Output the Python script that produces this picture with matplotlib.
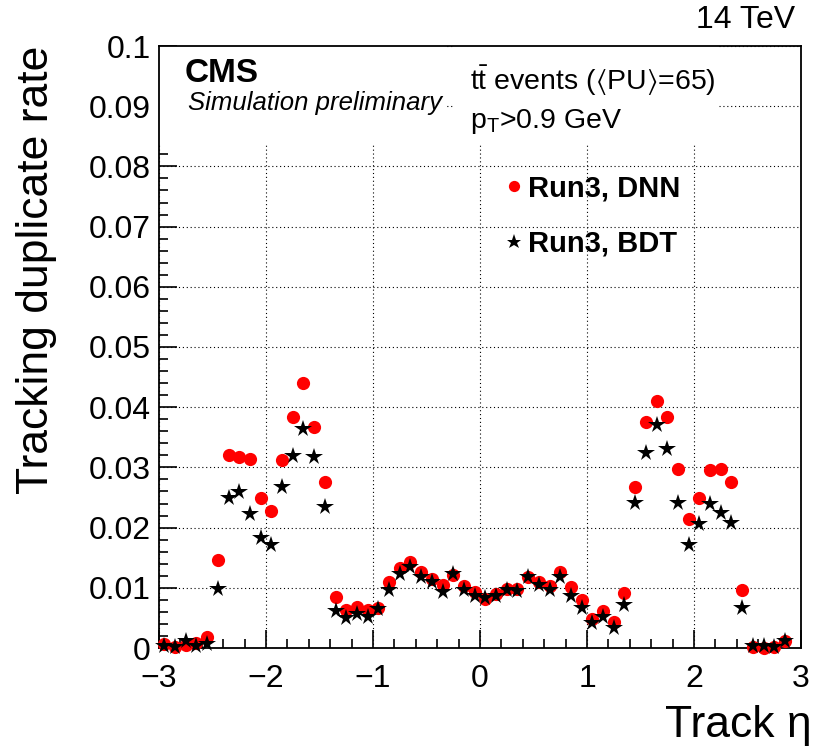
import matplotlib
matplotlib.use("Agg")
import matplotlib.pyplot as plt
from matplotlib.patches import Rectangle
from matplotlib.ticker import MultipleLocator

plt.rcParams["font.family"] = ["Liberation Sans", "DejaVu Sans"]
plt.rcParams["mathtext.fontset"] = "custom"
plt.rcParams["mathtext.rm"] = "Liberation Sans"
plt.rcParams["mathtext.it"] = "Liberation Sans:italic"
plt.rcParams["mathtext.bf"] = "Liberation Sans:bold"
plt.rcParams["mathtext.fallback"] = "stixsans"

# bin centres in track eta
ETA = [-2.95, -2.85, -2.75, -2.65, -2.55, -2.45, -2.35, -2.25, -2.15, -2.05,
       -1.95, -1.85, -1.75, -1.65, -1.55, -1.45, -1.35, -1.25, -1.15, -1.05,
       -0.95, -0.85, -0.75, -0.65, -0.55, -0.45, -0.35, -0.25, -0.15, -0.05,
       0.05, 0.15, 0.25, 0.35, 0.45, 0.55, 0.65, 0.75, 0.85, 0.95,
       1.05, 1.15, 1.25, 1.35, 1.45, 1.55, 1.65, 1.75, 1.85, 1.95,
       2.05, 2.15, 2.25, 2.35, 2.45, 2.55, 2.65, 2.75, 2.85]

DUP_DNN = [0.0006, 0.0002, 0.0005, 0.0008, 0.0018, 0.0146, 0.0320, 0.0317, 0.0314, 0.0250,
           0.0227, 0.0312, 0.0383, 0.0440, 0.0367, 0.0275, 0.0085, 0.0063, 0.0068, 0.0063,
           0.0067, 0.0109, 0.0133, 0.0143, 0.0126, 0.0115, 0.0104, 0.0122, 0.0103, 0.0093,
           0.0081, 0.0089, 0.0098, 0.0098, 0.0118, 0.0109, 0.0103, 0.0126, 0.0101, 0.0079,
           0.0048, 0.0062, 0.0044, 0.0092, 0.0268, 0.0376, 0.0410, 0.0383, 0.0298, 0.0214,
           0.0249, 0.0296, 0.0298, 0.0276, 0.0097, 0.0002, 0.0000, 0.0002, 0.0012]

DUP_BDT = [0.0004, 0.0002, 0.0011, 0.0004, 0.0007, 0.0098, 0.0250, 0.0259, 0.0222, 0.0182,
           0.0171, 0.0268, 0.0319, 0.0363, 0.0317, 0.0235, 0.0061, 0.0050, 0.0057, 0.0051,
           0.0064, 0.0096, 0.0123, 0.0135, 0.0118, 0.0109, 0.0093, 0.0123, 0.0097, 0.0086,
           0.0083, 0.0087, 0.0096, 0.0094, 0.0118, 0.0104, 0.0096, 0.0118, 0.0087, 0.0067,
           0.0041, 0.0052, 0.0034, 0.0072, 0.0241, 0.0324, 0.0371, 0.0331, 0.0241, 0.0171,
           0.0206, 0.0239, 0.0225, 0.0207, 0.0066, 0.0003, 0.0004, 0.0002, 0.0012]

W, H = 813, 756


def main():
    fig = plt.figure(figsize=(W / 100, H / 100), dpi=100)
    ax = fig.add_axes([159 / W, 1 - 648 / H, (801 - 159) / W, (648 - 46) / H])

    ax.plot(ETA, DUP_DNN, linestyle="none", marker="o", color="#ff0000",
            markersize=9.5, markeredgewidth=0, label="Run3, DNN",
            zorder=3, clip_on=False)
    ax.plot(ETA, DUP_BDT, linestyle="none", marker="*", color="black",
            markersize=13, markeredgewidth=0, label="Run3, BDT",
            zorder=4, clip_on=False)

    ax.set_xlim(-3, 3)
    ax.set_ylim(0, 0.1)
    ax.xaxis.set_major_locator(MultipleLocator(1))
    ax.xaxis.set_minor_locator(MultipleLocator(0.2))
    ax.yaxis.set_minor_locator(MultipleLocator(0.002))
    ax.set_yticks([0, 0.01, 0.02, 0.03, 0.04, 0.05, 0.06, 0.07, 0.08, 0.09, 0.1])
    ax.set_yticklabels(["0", "0.01", "0.02", "0.03", "0.04", "0.05",
                        "0.06", "0.07", "0.08", "0.09", "0.1"])
    ax.tick_params(which="both", direction="in", top=False, right=False,
                   labelsize=23, width=1.2)
    ax.tick_params(which="major", length=13)
    ax.tick_params(which="minor", length=6.5)
    ax.tick_params(axis="x", which="major", pad=11.5)
    ax.tick_params(axis="y", which="major", pad=6)
    for s in ax.spines.values():
        s.set_linewidth(1.3)

    ax.set_axisbelow(True)
    ax.grid(True, which="major", color="black", linestyle=(0, (1, 2.5)),
            linewidth=0.8)

    # white panes behind the header labels
    ax.add_patch(Rectangle((0, 0.838), 0.446, 0.2, transform=ax.transAxes,
                           facecolor="white", edgecolor="none", zorder=1))
    ax.add_patch(Rectangle((0.460, 0.838), 0.411, 0.2, transform=ax.transAxes,
                           facecolor="white", edgecolor="none", zorder=1))

    ax.text(0.040, 0.940, "CMS", transform=ax.transAxes, fontsize=24,
            fontweight="bold", va="baseline", zorder=5)
    ax.text(0.045, 0.893, "Simulation preliminary", transform=ax.transAxes,
            fontsize=18.5, style="italic", va="baseline", zorder=5)
    ax.text(0.484, 0.927,
            r"$\mathregular{t\bar{t}}$ events ($\mathregular{\langle}$PU$\mathregular{\rangle}$=65)",
            transform=ax.transAxes, fontsize=20.5, va="baseline", zorder=5)
    ax.text(0.484, 0.864, r"p$_\mathregular{T}$>0.9 GeV",
            transform=ax.transAxes, fontsize=20.5, va="baseline", zorder=5)

    ax.legend(loc="upper left", bbox_to_anchor=(0.540, 0.787), frameon=False,
              prop={"weight": "bold", "size": 21}, handlelength=0.6,
              handletextpad=0.15, labelspacing=0.95, borderpad=0,
              borderaxespad=0, markerscale=0.85)

    fig.text(795 / W, 1 - 28 / H, "14 TeV", fontsize=23, ha="right",
             va="baseline")
    fig.text(48 / W, 1 - 46 / H, "Tracking duplicate rate", fontsize=32,
             rotation=90, rotation_mode="anchor", ha="right", va="baseline")
    fig.text(812 / W, 1 - 737 / H, "Track η", fontsize=32, ha="right",
             va="baseline")

    fig.savefig("out.png", dpi=100)


if __name__ == "__main__":
    main()
